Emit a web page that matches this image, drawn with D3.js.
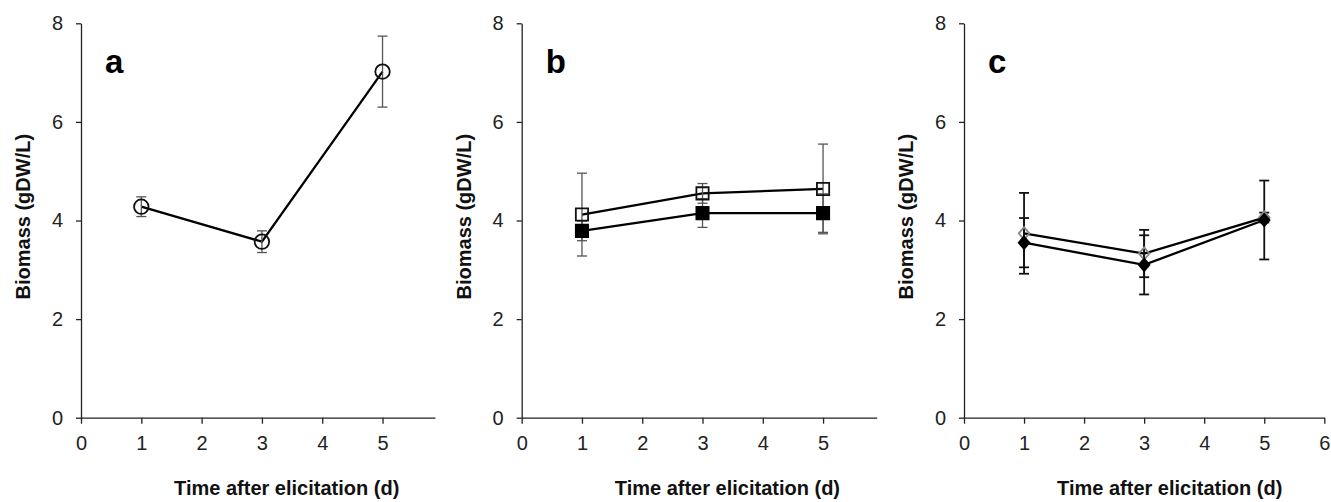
<!DOCTYPE html>
<html>
<head>
<meta charset="utf-8">
<script src="https://cdn.jsdelivr.net/npm/d3@7"></script>
<style>
body { margin: 0; background: #fff; }
text { font-family: "Liberation Sans", Arial, sans-serif; }
</style>
</head>
<body>
<svg id="vis" width="1331" height="502"></svg>
<script>
var days = [1, 3, 5];
var yTicks = [0, 2, 4, 6, 8];
var xTicksAB = [0, 1, 2, 3, 4, 5];
var xTicksC = [0, 1, 2, 3, 4, 5, 6];

// panel a
var aMean = [4.28, 3.57, 7.02];
var aErr = [0.20, 0.22, 0.72];

// panel b
var bOpenMean = [4.12, 4.55, 4.64];
var bOpenErr = [0.84, 0.20, 0.91];
var bFilledMean = [3.79, 4.15, 4.15];
var bFilledErr = [0.20, 0.29, 0.39];

// panel c
var cOpenMean = [3.74, 3.33, 4.06];
var cOpenErr = [0.82, 0.48, 0.10];
var cFilledMean = [3.55, 3.10, 4.01];
var cFilledErr = [0.50, 0.60, 0.80];

var svg = d3.select("#vis");
var yTop = 23.3, yBottom = 417.7;

var panels = [
    {label: "a", left: 81, right: 435, xMax: 5.87, xTicks: xTicksAB, errColor: "#555", errWidth: 1.3,
     series: [{mean: aMean, err: aErr, shape: "circle", fill: "none", stroke: "#111"}]},
    {label: "b", left: 521.7, right: 876.7, xMax: 5.89, xTicks: xTicksAB, errColor: "#555", errWidth: 1.3,
     series: [{mean: bOpenMean, err: bOpenErr, shape: "square", fill: "none", stroke: "#111"},
              {mean: bFilledMean, err: bFilledErr, shape: "square", fill: "#000", stroke: "#000"}]},
    {label: "c", left: 964, right: 1324.3, xMax: 6, xTicks: xTicksC, errColor: "#111", errWidth: 1.8,
     series: [{mean: cOpenMean, err: cOpenErr, shape: "diamond", fill: "none", stroke: "#888"},
              {mean: cFilledMean, err: cFilledErr, shape: "diamond", fill: "#000", stroke: "#000"}]}
];

function markerPath(shape) {
    if (shape == "circle") return d3.symbol().type(d3.symbolCircle).size(165)();
    if (shape == "square") return d3.symbol().type(d3.symbolSquare).size(150)();
    return "M0,-6.2L5.3,0L0,6.2L-5.3,0Z";
}

panels.forEach(function(p) {
    var x = d3.scaleLinear().domain([0, p.xMax]).range([p.left, p.right]);
    var y = d3.scaleLinear().domain([0, 8]).range([yBottom, yTop]);
    var g = svg.append("g");

    var xAxis = g.append("g")
        .attr("transform", "translate(0," + yBottom + ")")
        .call(d3.axisBottom(x).tickValues(p.xTicks).tickSize(6).tickSizeOuter(0).tickPadding(12.5)
            .tickFormat(d3.format("d")));
    var yAxis = g.append("g")
        .attr("transform", "translate(" + p.left + ",0)")
        .call(d3.axisLeft(y).tickValues(yTicks).tickSize(5).tickSizeOuter(0).tickPadding(13)
            .tickFormat(d3.format("d")));
    [xAxis, yAxis].forEach(function(a) {
        a.attr("font-size", null).attr("font-family", null);
        a.selectAll("path, line").attr("stroke", "#222").attr("stroke-width", 1.3);
        a.selectAll("text").style("font-size", "20px").attr("fill", "#222")
            .style("font-family", "'Liberation Sans', Arial, sans-serif");
    });

    // axis titles
    g.append("text")
        .attr("transform", "translate(" + (p.left - 51) + ",216.7) rotate(-90)")
        .attr("text-anchor", "middle")
        .style("font-size", "20px").attr("font-weight", "bold").attr("fill", "#111")
        .text("Biomass (gDW/L)");
    g.append("text")
        .attr("x", p.left + 205.7).attr("y", 495)
        .attr("text-anchor", "middle")
        .style("font-size", "20px").attr("font-weight", "bold").attr("fill", "#111")
        .text("Time after elicitation (d)");
    g.append("text")
        .attr("x", p.left + 24).attr("y", 73)
        .style("font-size", "33px").attr("font-weight", "bold").attr("fill", "#000")
        .text(p.label);

    var line = d3.line()
        .x(function(d, i) { return x(days[i]); })
        .y(function(d) { return y(d); });

    p.series.forEach(function(s) {
        g.append("path")
            .datum(s.mean)
            .attr("d", line)
            .attr("fill", "none")
            .attr("stroke", "#000")
            .attr("stroke-width", 2.3);
    });

    p.series.forEach(function(s) {
        var eb = g.append("g").selectAll(".err")
            .data(s.mean)
            .enter().append("g");
        eb.append("line")
            .attr("x1", function(d, i) { return x(days[i]); })
            .attr("x2", function(d, i) { return x(days[i]); })
            .attr("y1", function(d, i) { return y(d + s.err[i]); })
            .attr("y2", function(d, i) { return y(d - s.err[i]); });
        [1, -1].forEach(function(sign) {
            eb.append("line")
                .attr("x1", function(d, i) { return x(days[i]) - 5; })
                .attr("x2", function(d, i) { return x(days[i]) + 5; })
                .attr("y1", function(d, i) { return y(d + sign * s.err[i]); })
                .attr("y2", function(d, i) { return y(d + sign * s.err[i]); });
        });
        eb.selectAll("line").attr("stroke", p.errColor).attr("stroke-width", p.errWidth);
    });

    p.series.forEach(function(s) {
        g.append("g").selectAll(".mark")
            .data(s.mean)
            .enter().append("path")
            .attr("d", markerPath(s.shape))
            .attr("transform", function(d, i) { return "translate(" + x(days[i]) + "," + y(d) + ")"; })
            .attr("fill", s.fill)
            .attr("stroke", s.stroke)
            .attr("stroke-width", 1.8);
    });
});
</script>
</body>
</html>
